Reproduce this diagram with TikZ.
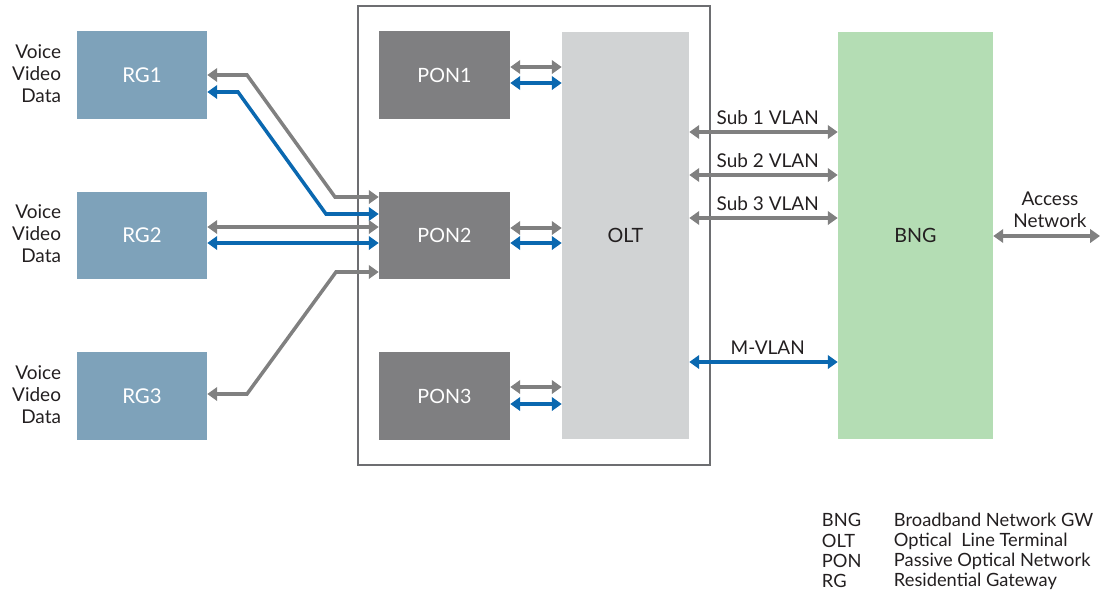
\documentclass[tikz,border=0pt]{standalone}
\usepackage{fontspec}
\setmainfont{Lato}
\usetikzlibrary{arrows.meta}
\definecolor{rgblue}{HTML}{7EA2BA}
\definecolor{pongray}{HTML}{7F7F81}
\definecolor{oltgray}{HTML}{D1D3D4}
\definecolor{bnggreen}{HTML}{B4DDB4}
\definecolor{linegray}{HTML}{808080}
\definecolor{lineblue}{HTML}{0A68B0}
\definecolor{framegray}{HTML}{6D6E71}
\definecolor{textdark}{HTML}{231F20}

\begin{document}
\begin{tikzpicture}[x=0.025cm, y=-0.025cm,
  every node/.style={font=\fontsize{13.5}{15.6}\selectfont, text=textdark},
  rgbox/.style={fill=rgblue, minimum width=3.25cm, minimum height=2.175cm, text=white, font=\fontsize{14.5}{16}\selectfont},
  ponbox/.style={fill=pongray, minimum width=3.275cm, minimum height=2.175cm, text=white, font=\fontsize{14}{16}\selectfont},
  tallbox/.style={minimum height=10.175cm, font=\fontsize{14}{16}\selectfont},
  keytext/.style={anchor=west, font=\fontsize{13}{15}\selectfont},
  grayarr/.style={draw=linegray, line width=2.5pt, {Triangle[length=7pt, width=9.5pt]}-{Triangle[length=7pt, width=9.5pt]}},
  bluearr/.style={draw=lineblue, line width=2.5pt, {Triangle[length=7pt, width=9.5pt]}-{Triangle[length=7pt, width=9.5pt]}}]

\useasboundingbox (0,0) rectangle (1101,593);

% Frame round the PONs and the OLT
\node[draw=framegray, line width=1.4pt, minimum width=8.8cm, minimum height=11.475cm] (frame) at (534,235.5) {};

% Residential gateways
\node[rgbox] (rg1) at (142,75) {RG1};
\node[rgbox] (rg2) at (142,235.5) {RG2};
\node[rgbox] (rg3) at (142,396) {RG3};

\node[anchor=east, align=right] (svc1) at (66,74) {Voice\\Video\\Data};
\node[anchor=east, align=right] (svc2) at (66,234) {Voice\\Video\\Data};
\node[anchor=east, align=right] (svc3) at (66,395) {Voice\\Video\\Data};

% PONs, OLT and BNG
\node[ponbox] (pon1) at (444.5,75) {PON1};
\node[ponbox] (pon2) at (444.5,235.5) {PON2};
\node[ponbox] (pon3) at (444.5,396) {PON3};

\node[fill=oltgray, tallbox, minimum width=3.175cm] (olt) at (625.5,235.5) {OLT};
\node[fill=bnggreen, tallbox, minimum width=3.875cm] (bng) at (915.5,235.5) {BNG};

% RG to PON2
\coordinate (rg1g) at (247,75);
\coordinate (pon2g) at (335,197);
\coordinate (rg1b) at (238,92);
\coordinate (pon2b) at (326,214);
\coordinate (rg3g) at (247,394);
\coordinate (pon2h) at (336,272);

\draw[grayarr] (rg1.east |- rg1g) -- (rg1g) -- (pon2g) -- (pon2.west |- pon2g);
\draw[bluearr] (rg1.east |- rg1b) -- (rg1b) -- (pon2b) -- (pon2.west |- pon2b);
\draw[grayarr] (rg2.east |- 0,227) -- (pon2.west |- 0,227);
\draw[bluearr] (rg2.east |- 0,243) -- (pon2.west |- 0,243);
\draw[grayarr] (rg3.east |- rg3g) -- (rg3g) -- (pon2h) -- (pon2.west |- pon2h);

% PON to OLT
\draw[grayarr] (pon1.east |- 0,67) -- (olt.west |- 0,67);
\draw[bluearr] (pon1.east |- 0,83) -- (olt.west |- 0,83);
\draw[grayarr] (pon2.east |- 0,228) -- (olt.west |- 0,228);
\draw[bluearr] (pon2.east |- 0,243) -- (olt.west |- 0,243);
\draw[grayarr] (pon3.east |- 0,387) -- (olt.west |- 0,387);
\draw[bluearr] (pon3.east |- 0,404) -- (olt.west |- 0,404);

% OLT to BNG
\draw[grayarr] (olt.east |- 0,132) -- node[above=1pt, xshift=3pt] {Sub 1 VLAN} (bng.west |- 0,132);
\draw[grayarr] (olt.east |- 0,175) -- node[above=1pt, xshift=3pt] {Sub 2 VLAN} (bng.west |- 0,175);
\draw[grayarr] (olt.east |- 0,218) -- node[above=1pt, xshift=3pt] {Sub 3 VLAN} (bng.west |- 0,218);
\draw[bluearr] (olt.east |- 0,362) -- node[above=1pt, xshift=3pt] {M-VLAN} (bng.west |- 0,362);

% Access side
\coordinate (acc) at (1100,236);
\draw[grayarr] (bng.east |- acc) -- (acc);
\node[align=center] (acclbl) at (1050,210) {Access\\Network};

% Legend
\node[keytext] (k1) at (817,520) {BNG};
\node[keytext] (k2) at (817,541) {OLT};
\node[keytext] (k3) at (817,561) {PON};
\node[keytext] (k4) at (817,581) {RG};
\node[keytext] (d1) at (889,520) {Broadband Network GW};
\node[keytext] (d2) at (889,541) {Optical\ \ Line Terminal};
\node[keytext] (d3) at (889,561) {Passive Optical Network};
\node[keytext] (d4) at (889,581) {Residential Gateway};

\end{tikzpicture}
\end{document}
